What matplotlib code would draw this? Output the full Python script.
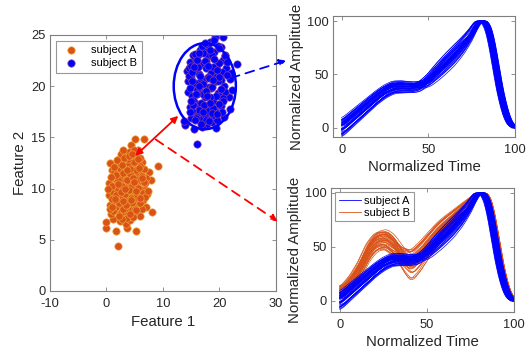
import numpy as np
import matplotlib
matplotlib.use("Agg")
import matplotlib.pyplot as plt
from matplotlib.patches import Ellipse

plt.rcParams['font.family'] = ['Liberation Sans', 'DejaVu Sans']
plt.rcParams['axes.unicode_minus'] = False

# scatter clusters (feature 1, feature 2)
A_X = [2.0,0.0,-0.1,1.7,5.2,3.7,3.4,2.4,4.2,1.2,5.9,8.1,7.0,2.9,4.8,0.8,3.6,1.9,6.2,0.7,2.6,4.3,5.4,3.2,1.4,6.4,4.9,2.2,0.4,3.8,
       5.8,7.2,1.1,2.9,4.5,6.7,3.5,1.8,5.3,0.4,2.6,4.1,6.1,7.9,1.3,3.2,4.9,5.8,2.2,7.5,3.9,0.9,6.6,2.9,4.6,9.1,1.6,5.4,0.7,3.6,
       6.2,2.3,4.4,5.1,2.5,3.4,4.0,4.4,5.1,6.7,5.6,3.0,1.5,3.9,2.0,4.8,3.1,5.0,2.7,4.2,1.9,6.0,5.7,2.5,3.3,5.2,1.0,3.6,4.6,6.5,
       2.1,4.0,7.0,3.0,4.3,1.6,5.6,2.4,6.0,3.7,4.7,1.4,5.9,4.8,2.8,3.4,6.9,0.9,2.2,
       1.2,2.8,4.5,6.0,3.3,5.1,2.0,4.0,0.6,6.8,1.7,3.7,5.5,2.4,4.9,3.0,6.3,1.5,4.2,5.8,2.6,3.8,0.3,7.3,1.0,3.5,5.0,2.1,4.4,6.6,
       3.1,4.7,1.8,5.3,2.9,4.1,3.6,5.6,2.3,4.9,0.8,6.2,3.9,1.3,5.2,2.7,4.5,3.2,6.0,4.3]
A_Y = [4.4,6.2,6.7,5.9,5.9,6.2,6.5,6.8,6.9,7.0,7.3,7.7,8.2,7.3,7.6,7.5,7.7,7.9,8.0,8.4,8.3,8.3,8.5,8.8,8.8,8.9,9.0,9.2,9.4,9.3,
       9.4,9.5,9.7,9.8,9.8,10.0,10.2,10.2,10.3,10.5,10.6,10.6,10.7,10.8,11.0,11.1,11.2,11.4,11.5,11.6,11.6,11.8,11.9,12.0,12.1,12.2,12.3,12.4,12.5,12.6,
       12.6,12.9,12.9,13.2,13.4,13.3,13.6,14.3,14.8,14.8,13.8,13.8,8.1,8.0,9.9,10.0,10.9,9.6,9.3,11.4,10.7,10.0,8.8,7.6,12.2,11.8,10.3,9.0,8.6,9.6,
       12.0,12.4,11.0,8.0,10.2,9.4,10.9,11.2,12.2,7.1,7.2,11.6,13.0,13.8,10.3,9.6,9.2,9.0,8.6,
       7.8,7.0,7.9,8.6,9.5,9.2,10.8,9.9,8.0,10.5,11.3,10.8,10.1,12.5,12.6,11.5,11.2,9.0,11.9,12.0,9.7,12.9,10.0,9.8,8.2,8.4,8.0,10.4,9.1,10.6,
       13.0,11.0,12.8,9.8,8.8,7.5,11.8,12.9,7.3,10.6,11.1,11.0,13.2,12.1,7.9,12.3,13.4,10.0,9.1,8.9]
B_X = [19.2,20.6,18.3,16.0,23.1,13.9,13.8,15.5,19.3,21.9,14.7,14.4,14.5,21.8,21.6,16.5,20.2,17.2,19.0,15.6,18.0,20.6,16.8,19.5,15.2,17.6,21.2,18.5,16.3,20.1,
       14.9,17.2,19.0,15.8,20.8,18.1,16.6,19.7,15.1,17.5,21.0,18.8,16.1,20.2,14.8,17.3,19.2,15.7,18.2,16.7,20.8,17.8,15.0,16.9,18.6,17.9,16.2,21.0,19.9,18.5,
       17.0,16.0,18.9,20.3,17.7,15.5,19.5,16.4,20.6,14.3,18.3,17.9,16.6,19.4,15.4,20.0,17.4,18.9,22.0,22.2,18.7,17.1,19.8,16.3,18.0,
       15.3,16.9,18.4,19.9,21.0,15.8,17.4,19.1,20.5,16.2,17.9,19.6,15.0,16.6,18.2,19.8,21.3,15.6,17.1,18.7,20.2,16.0,17.7,19.3,20.7,
       15.4,16.8,18.4,19.9,17.3,18.9,16.4,20.4,17.0,18.6,15.9,19.5,17.6,18.1,16.7,14.6,21.4,19.0,17.4,18.3,16.1,20.0,15.2,18.8,17.8,
       14.6,15.0,14.8,15.3,14.7,15.6,15.2,16.0,15.9,15.1,16.3,14.9,15.7,16.4,15.5]
B_Y = [24.8,24.8,24.3,14.4,22.2,16.2,16.6,15.8,15.9,17.8,22.4,20.5,19.4,20.7,18.9,23.5,23.8,23.6,23.3,22.8,22.9,22.6,22.2,22.1,21.6,21.8,21.8,21.3,21.2,21.0,
       20.8,20.6,20.4,20.1,20.0,19.9,19.5,19.3,19.0,18.9,19.4,18.6,18.3,18.1,18.0,17.9,17.6,17.3,17.1,16.8,17.0,16.3,16.9,16.0,16.5,24.0,23.0,23.0,19.0,19.8,
       19.2,21.8,21.9,20.6,22.5,18.5,16.7,17.5,18.8,21.5,18.1,20.9,20.4,20.9,20.4,22.3,17.2,17.2,21.3,19.6,23.0,23.2,23.9,19.9,17.6,
       23.0,23.9,23.5,23.7,22.9,22.3,22.5,22.7,21.4,21.9,22.0,21.6,21.1,21.0,20.8,20.5,21.1,20.3,20.2,19.9,19.7,19.6,19.5,19.0,18.6,
       18.7,18.4,18.9,18.3,18.2,17.9,17.7,17.5,17.5,17.4,16.9,17.3,16.7,16.6,16.3,21.8,22.4,24.5,24.2,18.4,19.2,20.9,17.6,20.6,19.0,
       21.0,22.0,19.8,18.2,17.5,23.1,20.5,22.6,19.2,21.4,20.0,18.6,16.7,23.2,21.9]

# waveform templates (normalized time vs normalized amplitude)
T_KNOTS = [0,5,10,15,20,25,30,35,40,45,50,55,60,65,70,75,78,80,82,84,86,88,90,92,94,96,98,100]
A_MEAN = [0,7,14,21,28,34,38,38.5,38,39,44,52,60,68,77,88,97,100,100,96,85,67,47,30,17,7,2,0]
A_SPREAD1 = [8,7.5,7,6.5,6,6,6,6,5.5,5,3.5,3,2.5,2,1.5,1,0,0,0,0,0,0,0,0,0,0,0,0]
A_SPREAD2 = [0,0,0,0,0,0.5,1,1.5,2,3.5,6,8,9,9,7.5,5,2,0,0,0,0,0,0,0,0,0,0,0]
B_MEAN = [8,16,28,45,55,57,51,40,33,41,52,62,70,78,86,94,98,100,100,98,89,73,53,35,20,9,3,0]
B_SPREAD1 = [6,7,8,9,9,9,10,9,8,7,6,5,4,3,2,1.5,1,0,0,0,0,0,0,0,0,0,0,0]
B_SPREAD2 = [0,0,0,0,0,1,2,7,13,13,11,10,9,7,5,3,1,0,0,0,0,0,0,0,0,0,0,0]

# per-trial deviations
A_W1 = [-0.9,0.7,0.2,-0.4,1.0,-0.1,0.5,-0.7,0.3,-0.2,0.8,-0.5,0.0,0.6,-0.8,0.4,-0.3,0.9,-0.6,0.1,0.3,-0.9,0.7,-0.1,0.5,-0.4,0.2,-1.0,0.6,-0.2,0.0,0.8,-0.7,0.4,-0.5,0.1,0.9,-0.3,0.3,-0.6,0.6,-0.1,0.2,-0.8,0.5]
A_W2 = [0.3,-0.6,0.9,0.1,-0.4,0.7,-0.9,0.2,0.5,-0.2,-0.7,0.8,0.0,-0.5,0.4,-1.0,0.6,-0.1,0.3,0.9,-0.8,0.2,-0.3,0.6,-0.6,1.0,-0.4,0.1,-0.2,0.7,0.5,-0.9,0.4,-0.3,0.8,0.0,-0.5,0.2,-0.7,0.6,-0.1,0.3,0.9,-0.4,0.1]
A_SHIFT = [0.7,-1.4,1.7,0.0,-0.8,1.1,-1.8,0.4,1.4,-0.3,0.8,-1.1,2.0,-1.5,0.3,1.3,-0.6,0.0,1.5,-1.3,0.6,-0.4,1.0,-1.7,0.1,1.8,-1.0,0.7,-0.1,1.1,-2.0,0.4,0.8,-0.7,1.4,-1.1,0.3,-0.3,1.3,-1.4,0.6,1.7,-0.8,0.0,1.0]
B_W1 = [0.6,-0.8,0.1,0.9,-0.3,0.4,-1.0,0.7,-0.5,0.2,0.8,-0.2,-0.7,0.5,0.0,-0.4,1.0,-0.9,0.3,-0.1,0.6,-0.6,0.9,-0.3,0.2,-0.8,0.4,0.7,-0.5,0.1,-0.2,0.8,-1.0,0.5,-0.4,0.3,0.0,-0.7,0.9,-0.1]
B_W2 = [-0.5,0.9,0.2,-0.7,0.6,-0.1,0.4,-1.0,0.8,0.0,-0.3,0.7,-0.6,0.3,1.0,-0.8,0.1,0.5,-0.4,0.9,-0.2,0.6,-0.9,0.2,-0.5,0.4,0.8,-0.1,0.3,-0.7,1.0,-0.4,0.0,0.6,-0.9,0.7,-0.3,0.5,-0.6,0.1]
B_SHIFT = [1.0,1.6,0.4,2.0,0.8,1.3,0.2,1.8,1.1,0.6,1.5,0.0,1.9,0.9,1.2,0.5,1.7,0.3,1.4,0.7,2.0,1.0,0.1,1.6,0.8,1.3,0.4,1.9,0.6,1.1,1.5,0.2,1.8,0.9,1.2,0.5,1.7,0.3,1.4,1.0]

ORANGE = '#D95319'
BLUE = '#0000FF'
GREY = '#7f7f7f'
TXT = '#262626'

tt = np.linspace(0, 100, 401)
kern = np.ones(15) / 15.0


def trials(mean, s1, s2, w1, w2, shift):
    out = []
    for a, b, s in zip(w1, w2, shift):
        y = np.interp(tt - s, T_KNOTS, mean) + a * np.interp(tt, T_KNOTS, s1) + b * np.interp(tt, T_KNOTS, s2)
        yp = np.concatenate([np.full(7, y[0]), y, np.full(7, y[-1])])
        y = np.convolve(yp, kern, mode='valid')
        out.append(y * 100.0 / y.max())
    return out


curves_a = trials(A_MEAN, A_SPREAD1, A_SPREAD2, A_W1, A_W2, A_SHIFT)
curves_b = trials(B_MEAN, B_SPREAD1, B_SPREAD2, B_W1, B_W2, B_SHIFT)


def style(ax, fs=9.3):
    for sp in ax.spines.values():
        sp.set_color(GREY)
        sp.set_linewidth(0.8)
    ax.tick_params(direction='in', top=True, right=True, length=3, width=0.6,
                   color=GREY, labelcolor=TXT, labelsize=fs, pad=3)
    ax.tick_params(axis='x', pad=5)


fig = plt.figure(figsize=(5.29, 3.52), dpi=100)
ax1 = fig.add_axes([0.0945, 0.1733, 0.4272, 0.7273])
ax2 = fig.add_axes([0.6295, 0.6108, 0.3440, 0.3438])
ax3 = fig.add_axes([0.6257, 0.1136, 0.3459, 0.3523])

# scatter
ax1.scatter(A_X, A_Y, s=28, c=ORANGE, edgecolors='#EDA030', linewidths=0.5, label='subject A', zorder=2)
ax1.scatter(B_X, B_Y, s=28, c=BLUE, edgecolors='#8040A0', linewidths=0.5, label='subject B', zorder=2)
ax1.add_patch(Ellipse((17.4, 20.0), 11.0, 8.4, fill=False, ec=BLUE, lw=1.8, zorder=3))
ax1.set_xlim(-10, 30)
ax1.set_ylim(0, 25)
ax1.set_xticks([-10, 0, 10, 20, 30])
ax1.set_yticks([0, 5, 10, 15, 20, 25])
ax1.set_xlabel('Feature 1', fontsize=10.8, color=TXT, labelpad=4)
ax1.set_ylabel('Feature 2', fontsize=10.8, color=TXT, labelpad=3)
style(ax1)
leg = ax1.legend(loc='upper left', fontsize=8, frameon=True, fancybox=False, borderaxespad=0.5,
                 handletextpad=0.8, markerscale=1.0, borderpad=0.4, labelspacing=0.3)
leg.get_frame().set_edgecolor(GREY)
leg.get_frame().set_linewidth(0.8)

# arrows
ax1.annotate('', xy=(12.7, 17.1), xytext=(5.1, 13.2),
             arrowprops=dict(arrowstyle='<|-|>', color='red', lw=1.3, mutation_scale=10, shrinkA=0, shrinkB=0), zorder=4)
ax1.annotate('', xy=(30.3, 6.8), xytext=(8.7, 14.8), annotation_clip=False,
             arrowprops=dict(arrowstyle='-|>', color='red', lw=1.3, linestyle=(0, (5, 3.5)), mutation_scale=10, shrinkA=0, shrinkB=0), zorder=4)
ax1.annotate('', xy=(31.8, 22.5), xytext=(22.0, 20.8), annotation_clip=False,
             arrowprops=dict(arrowstyle='-|>', color=BLUE, lw=1.3, linestyle=(0, (5, 3.5)), mutation_scale=10, shrinkA=0, shrinkB=0), zorder=4)

# top-right waveforms
for y in curves_a:
    ax2.plot(tt, y, color=BLUE, lw=0.5)
ax2.set_xlim(-5, 100)
ax2.set_ylim(-8.5, 104.7)

# bottom-right waveforms
for y in curves_b:
    ax3.plot(tt, y, color=ORANGE, lw=0.5)
for y in curves_a:
    ax3.plot(tt, y, color=BLUE, lw=0.5)
ax3.set_xlim(-5, 100)
ax3.set_ylim(-10.2, 104.6)
h1, = ax3.plot([], [], color=BLUE, lw=0.6, label='subject A')
h2, = ax3.plot([], [], color=ORANGE, lw=0.6, label='subject B')
leg3 = ax3.legend(handles=[h1, h2], loc='upper left', fontsize=8, frameon=True, fancybox=False,
                  borderaxespad=0.4, handlelength=2.0, handletextpad=0.3, borderpad=0.3, labelspacing=0.2)
leg3.get_frame().set_edgecolor(GREY)
leg3.get_frame().set_linewidth(0.8)

for ax in (ax2, ax3):
    ax.set_xticks([0, 50, 100])
    ax.set_yticks([0, 50, 100])
    ax.set_xlabel('Normalized Time', fontsize=10.8, color=TXT, labelpad=3)
    ax.set_ylabel('Normalized Amplitude', fontsize=10.8, color=TXT, labelpad=2)
    style(ax)

fig.savefig('out.png', dpi=100)
